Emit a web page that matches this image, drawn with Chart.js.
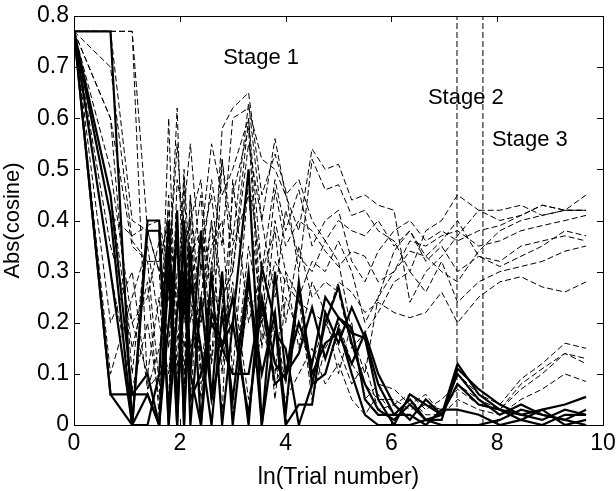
<!DOCTYPE html>
<html>
<head>
<meta charset="utf-8">
<script src="https://cdn.jsdelivr.net/npm/chart.js@4/dist/chart.umd.min.js"></script>
<style>
  html, body { margin: 0; padding: 0; background: #fff; }
  #wrap { width: 616px; height: 491px; }
</style>
</head>
<body>
<div id="wrap"><canvas id="c" width="616" height="491"></canvas></div>
<script>
// ln(trial number) sample positions shared by every curve
const xs = [0, 0.69, 1.10, 1.39, 1.61, 1.79, 1.95, 2.08, 2.20, 2.40, 2.60, 2.80, 3.00, 3.30, 3.55,
  3.80, 4.00, 4.25, 4.50, 4.75, 5.00, 5.25, 5.50, 5.75, 6.05, 6.35, 6.65, 6.95, 7.25, 7.65,
  8.05, 8.45, 8.85, 9.28, 9.68];

// thin dashed curves
const dashed1 = [0.77,0.77,0.77,0.38,0.38,0.27,0.62,0.20,0.45,0.10,0.30,0.52,0.36,0.63,0.40,0.56,0.45,0.38,0.54,0.50,0.51,0.44,0.45,0.43,0.42,0.24,0.30,0.33,0.37,0.42,0.42,0.43,0.41,0.42,0.42];
const dashed2 = [0.77,0.41,0.37,0.39,0.40,0.30,0.55,0.35,0.40,0.48,0.22,0.58,0.62,0.65,0.45,0.53,0.46,0.30,0.52,0.46,0.47,0.41,0.42,0.38,0.36,0.30,0.38,0.40,0.45,0.42,0.40,0.41,0.43,0.42,0.42];
const dashed3 = [0.77,0.70,0.36,0.32,0.32,0.40,0.25,0.42,0.55,0.30,0.48,0.35,0.60,0.62,0.52,0.50,0.45,0.48,0.40,0.36,0.40,0.38,0.37,0.40,0.35,0.38,0.33,0.30,0.28,0.34,0.38,0.40,0.41,0.42,0.42];
const dashed4 = [0.77,0.60,0.10,0.38,0.30,0.05,0.48,0.40,0.30,0.45,0.12,0.52,0.30,0.60,0.20,0.46,0.35,0.40,0.38,0.34,0.31,0.34,0.33,0.28,0.30,0.36,0.35,0.37,0.38,0.35,0.36,0.38,0.39,0.40,0.41];
const dashed5 = [0.77,0.50,0.20,0.25,0.36,0.15,0.40,0.10,0.33,0.38,0.28,0.20,0.45,0.58,0.15,0.40,0.30,0.25,0.32,0.30,0.36,0.30,0.20,0.25,0.30,0.34,0.33,0.36,0.40,0.33,0.31,0.33,0.35,0.38,0.37];
const dashed6 = [0.77,0.30,0.07,0.20,0.05,0.60,0.10,0.48,0.20,0.35,0.45,0.25,0.30,0.55,0.40,0.25,0.42,0.33,0.30,0.36,0.32,0.18,0.10,0.25,0.34,0.38,0.32,0.35,0.30,0.33,0.32,0.35,0.36,0.37,0.36];
const dashed7 = [0.77,0.20,0.30,0.07,0.15,0.25,0.35,0.05,0.45,0.20,0.35,0.40,0.10,0.48,0.30,0.38,0.20,0.35,0.25,0.28,0.26,0.15,0.18,0.22,0.28,0.30,0.26,0.32,0.24,0.28,0.30,0.31,0.32,0.34,0.35];
const dashed8 = [0.77,0.10,0.25,0.35,0.20,0.10,0.30,0.35,0.15,0.25,0.40,0.10,0.35,0.45,0.20,0.32,0.28,0.24,0.22,0.20,0.28,0.26,0.22,0.24,0.22,0.21,0.22,0.26,0.20,0.25,0.28,0.29,0.27,0.26,0.28];
const dashed9 = [0.77,0.77,0.77,0.07,0.10,0.45,0.05,0.30,0.15,0.20,0.40,0.25,0.05,0.35,0.20,0.10,0.30,0.15,0.28,0.22,0.10,0.20,0.05,0.08,0.07,0.04,0.06,0.02,0.10,0.06,0.04,0.09,0.12,0.16,0.15];
const dashed10 = [0.77,0.60,0.35,0.32,0.08,0.20,0.35,0.15,0.25,0.05,0.32,0.02,0.48,0.20,0.30,0.05,0.25,0.18,0.12,0.20,0.15,0.08,0.12,0.03,0.04,0.06,0.03,0.05,0.08,0.05,0.03,0.08,0.11,0.14,0.13];
const dashed11 = [0.77,0.35,0.20,0.10,0.25,0.05,0.22,0.28,0.05,0.32,0.12,0.30,0.02,0.25,0.10,0.20,0.08,0.25,0.05,0.15,0.20,0.12,0.08,0.05,0.05,0.03,0.04,0.03,0.07,0.04,0.03,0.07,0.10,0.14,0.12];
const dashed12 = [0.77,0.45,0.15,0.28,0.02,0.35,0.18,0.05,0.40,0.08,0.25,0.15,0.28,0.05,0.18,0.12,0.05,0.10,0.15,0.08,0.12,0.05,0.02,0.06,0.02,0.05,0.02,0.02,0.05,0.03,0.02,0.05,0.07,0.10,0.085];
const dashed13 = [0.77,0.77,0.40,0.38,0.30,0.42,0.22,0.50,0.28,0.36,0.55,0.45,0.50,0.60,0.30,0.48,0.38,0.46,0.35,0.40,0.42,0.32,0.28,0.34,0.38,0.40,0.36,0.38,0.36,0.38,0.39,0.41,0.43,0.42,0.45];

// thick solid curves
const solid1 = [0.77,0.77,0.00,0.38,0.38,0.00,0.42,0.00,0.35,0.00,0.30,0.00,0.20,0.50,0.00,0.30,0.10,0.20,0.12,0.25,0.21,0.18,0.17,0.08,0.02,0.05,0.01,0.02,0.12,0.06,0.03,0.02,0.03,0.04,0.055];
const solid2 = [0.77,0.06,0.06,0.06,0.00,0.30,0.00,0.40,0.10,0.38,0.05,0.30,0.00,0.28,0.10,0.22,0.02,0.28,0.08,0.20,0.27,0.16,0.08,0.03,0.01,0.04,0.01,0.01,0.11,0.07,0.04,0.02,0.01,0.03,0.02];
const solid3 = [0.77,0.41,0.00,0.40,0.40,0.00,0.22,0.35,0.00,0.25,0.05,0.15,0.25,0.00,0.31,0.20,0.00,0.04,0.04,0.22,0.16,0.23,0.17,0.05,0.00,0.06,0.04,0.02,0.10,0.05,0.02,0.04,0.02,0.01,0.03];
const solid4 = [0.77,0.06,0.00,0.00,0.10,0.40,0.00,0.30,0.05,0.10,0.20,0.15,0.10,0.10,0.25,0.12,0.09,0.27,0.10,0.16,0.18,0.12,0.18,0.10,0.04,0.01,0.05,0.02,0.08,0.04,0.03,0.01,0.00,0.02,0.02];
const solid5 = [0.77,0.30,0.00,0.06,0.00,0.35,0.05,0.25,0.10,0.00,0.22,0.16,0.20,0.02,0.24,0.08,0.10,0.14,0.23,0.13,0.21,0.19,0.05,0.02,0.02,0.02,0.00,0.03,0.03,0.02,0.00,0.01,0.03,0.00,0.01];
const solid6 = [0.77,0.45,0.06,0.10,0.00,0.20,0.38,0.00,0.28,0.15,0.00,0.22,0.05,0.30,0.00,0.18,0.15,0.00,0.08,0.10,0.19,0.10,0.02,0.00,0.00,0.00,0.01,0.00,0.00,0.00,0.01,0.03,0.02,0.01,0.00];

// stage boundaries and labels
const stageLines = [7.24, 7.73];
const stageLabels = ['Stage 1', 'Stage 2', 'Stage 3'];
const stageLabelX = [2.82, 6.69, 7.90];
const stageLabelY = [0.718, 0.640, 0.558];

const dashedSeries = [dashed1, dashed2, dashed3, dashed4, dashed5, dashed6, dashed7,
  dashed8, dashed9, dashed10, dashed11, dashed12, dashed13];
const solidSeries = [solid1, solid2, solid3, solid4, solid5, solid6];

const FONT = '"Liberation Sans", Arial, Helvetica, sans-serif';

function toPoints(ys) {
  return ys.map((y, i) => ({ x: xs[i], y: y }));
}

const datasets = [];
dashedSeries.forEach(ys => {
  datasets.push({
    data: toPoints(ys),
    borderColor: '#000',
    borderWidth: 1,
    borderDash: [6, 3],
    pointRadius: 0,
    tension: 0
  });
});
solidSeries.forEach(ys => {
  datasets.push({
    data: toPoints(ys),
    borderColor: '#000',
    borderWidth: 2.2,
    pointRadius: 0,
    tension: 0
  });
});
stageLines.forEach(xv => {
  datasets.push({
    data: [{ x: xv, y: 0 }, { x: xv, y: 0.8 }],
    borderColor: '#000',
    borderWidth: 1,
    borderDash: [6, 3],
    pointRadius: 0
  });
});

// box frame, inward ticks and stage labels
const framePlugin = {
  id: 'frame',
  afterDatasetsDraw(chart) {
    const { ctx, chartArea: a, scales: { x, y } } = chart;
    ctx.save();
    ctx.strokeStyle = '#000';
    ctx.lineWidth = 1;
    ctx.strokeRect(a.left + 0.5, a.top + 0.5, a.right - a.left, a.bottom - a.top);
    ctx.beginPath();
    x.ticks.forEach(t => {
      const px = Math.round(x.getPixelForValue(t.value)) + 0.5;
      ctx.moveTo(px, a.bottom); ctx.lineTo(px, a.bottom - 6);
      ctx.moveTo(px, a.top); ctx.lineTo(px, a.top + 6);
    });
    y.ticks.forEach(t => {
      const py = Math.round(y.getPixelForValue(t.value)) + 0.5;
      ctx.moveTo(a.left, py); ctx.lineTo(a.left + 6, py);
      ctx.moveTo(a.right, py); ctx.lineTo(a.right - 6, py);
    });
    ctx.stroke();

    ctx.fillStyle = '#000';
    ctx.font = '22px ' + FONT;
    ctx.textAlign = 'left';
    ctx.textBaseline = 'middle';
    stageLabels.forEach((s, i) => {
      ctx.fillText(s, x.getPixelForValue(stageLabelX[i]), y.getPixelForValue(stageLabelY[i]));
    });
    ctx.restore();
  }
};

new Chart(document.getElementById('c'), {
  type: 'line',
  data: { datasets: datasets },
  options: {
    responsive: false,
    animation: false,
    layout: { padding: { left: 0, right: 0, top: 16, bottom: 0 } },
    plugins: { legend: { display: false }, tooltip: { enabled: false } },
    scales: {
      x: {
        type: 'linear',
        min: 0, max: 10,
        grid: { display: false, drawTicks: false },
        border: { display: false },
        ticks: { stepSize: 2, color: '#000', font: { family: FONT, size: 23 }, padding: 5, maxRotation: 0 },
        title: { display: true, text: 'ln(Trial number)', color: '#000', font: { family: FONT, size: 23 }, padding: { top: 0, bottom: 0 } },
        afterFit(s) { s.height = 66; s.paddingLeft = 0; s.paddingRight = 13; }
      },
      y: {
        min: 0, max: 0.8,
        grid: { display: false, drawTicks: false },
        border: { display: false },
        ticks: { stepSize: 0.1, color: '#000', font: { family: FONT, size: 23 }, padding: 5,
          callback: v => (Math.round(v * 10) / 10).toString() },
        title: { display: true, text: 'Abs(cosine)', color: '#000', font: { family: FONT, size: 22 }, padding: { top: 0, bottom: 0 } },
        afterFit(s) { s.width = 74; s.paddingTop = 0; s.paddingBottom = 0; }
      }
    }
  },
  plugins: [framePlugin]
});
</script>
</body>
</html>
